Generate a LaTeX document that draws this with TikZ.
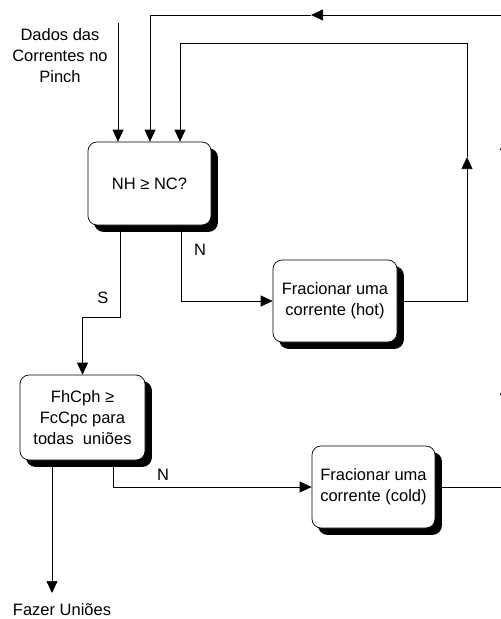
\documentclass[tikz,border=0pt]{standalone}
\usepackage{fontspec}
\setmainfont{Liberation Sans}
\usetikzlibrary{arrows.meta}
\begin{document}
\begin{tikzpicture}[x=1pt,y=-1pt,
  every node/.style={font=\fontsize{16.5}{21}\selectfont},
  proc/.style={draw, line width=0.7pt, rounded corners=9pt, fill=white,
    align=center, inner sep=0pt,
    preaction={fill=black, draw=black, transform canvas={xshift=6.5pt, yshift=-6.5pt}}},
  flow/.style={line width=0.7pt, -{Triangle[length=12pt,width=11pt]}},
  lbl/.style={inner sep=0pt}]
\clip (0,0) rectangle (501,619);
\fill[white] (0,0) rectangle (501,619);

% process boxes
\node[proc, minimum width=123pt, minimum height=83pt] (q1) at (149.5,183.5) {NH ≥ NC?};
\node[proc, minimum width=124pt, minimum height=82pt] (hot) at (335,301) {Fracionar uma\\corrente (hot)};
\node[proc, minimum width=125pt, minimum height=85pt] (q2) at (82.5,417.5) {FhCph ≥\\FcCpc para\\todas\ \ uniões};
\node[proc, minimum width=123pt, minimum height=82pt] (cold) at (373.5,487) {Fracionar uma\\corrente (cold)};

% free texts
\node[align=center, lbl] (dados) at (60,56) {Dados das\\Correntes no\\Pinch};
\node[lbl] (fazer) at (62,609.5) {Fazer Uniões};

% input
\coordinate (src) at (118,23);
\draw[flow] (src) -- (src |- q1.north);

% S branch
\coordinate (s1) at (120,317);
\draw[flow] (q1.south -| s1) -- (s1) -| (q2.north);
\node[lbl] (lS) at (103,298) {S};

% N branch to hot split
\coordinate (n1) at (181,301);
\draw[flow] (q1.south -| n1) |- (hot.west);
\node[lbl] (lN1) at (200,250) {N};

% return loop from hot split
\coordinate (h1) at (467,301);
\coordinate (h2) at (467,157);
\coordinate (h3) at (467,43);
\coordinate (h4) at (180,43);
\draw[flow] (hot.east) -- (h1) -- (h2);
\draw[flow] (h2) -- (h3) -- (h4) -- (h4 |- q1.north);

% N branch to cold split
\coordinate (n2) at (113,487);
\draw[flow] (q2.south -| n2) |- (cold.west);
\node[lbl] (lN2) at (163,475) {N};

% return loop from cold split
\coordinate (c1) at (505.5,487);
\coordinate (c2) at (505.5,383);
\coordinate (c3) at (505.5,138);
\coordinate (c4) at (505.5,15);
\coordinate (c5) at (311,15);
\coordinate (c6) at (150,15);
\draw[flow] (cold.east) -- (c1) -- (c2);
\draw[flow] (c2) -- (c3);
\draw[flow] (c3) -- (c4) -- (c5);
\draw[flow] (c5) -- (c6) -- (c6 |- q1.north);

% exit
\coordinate (out) at (52,593);
\draw[flow] (q2.south -| out) -- (out);
\end{tikzpicture}
\end{document}
